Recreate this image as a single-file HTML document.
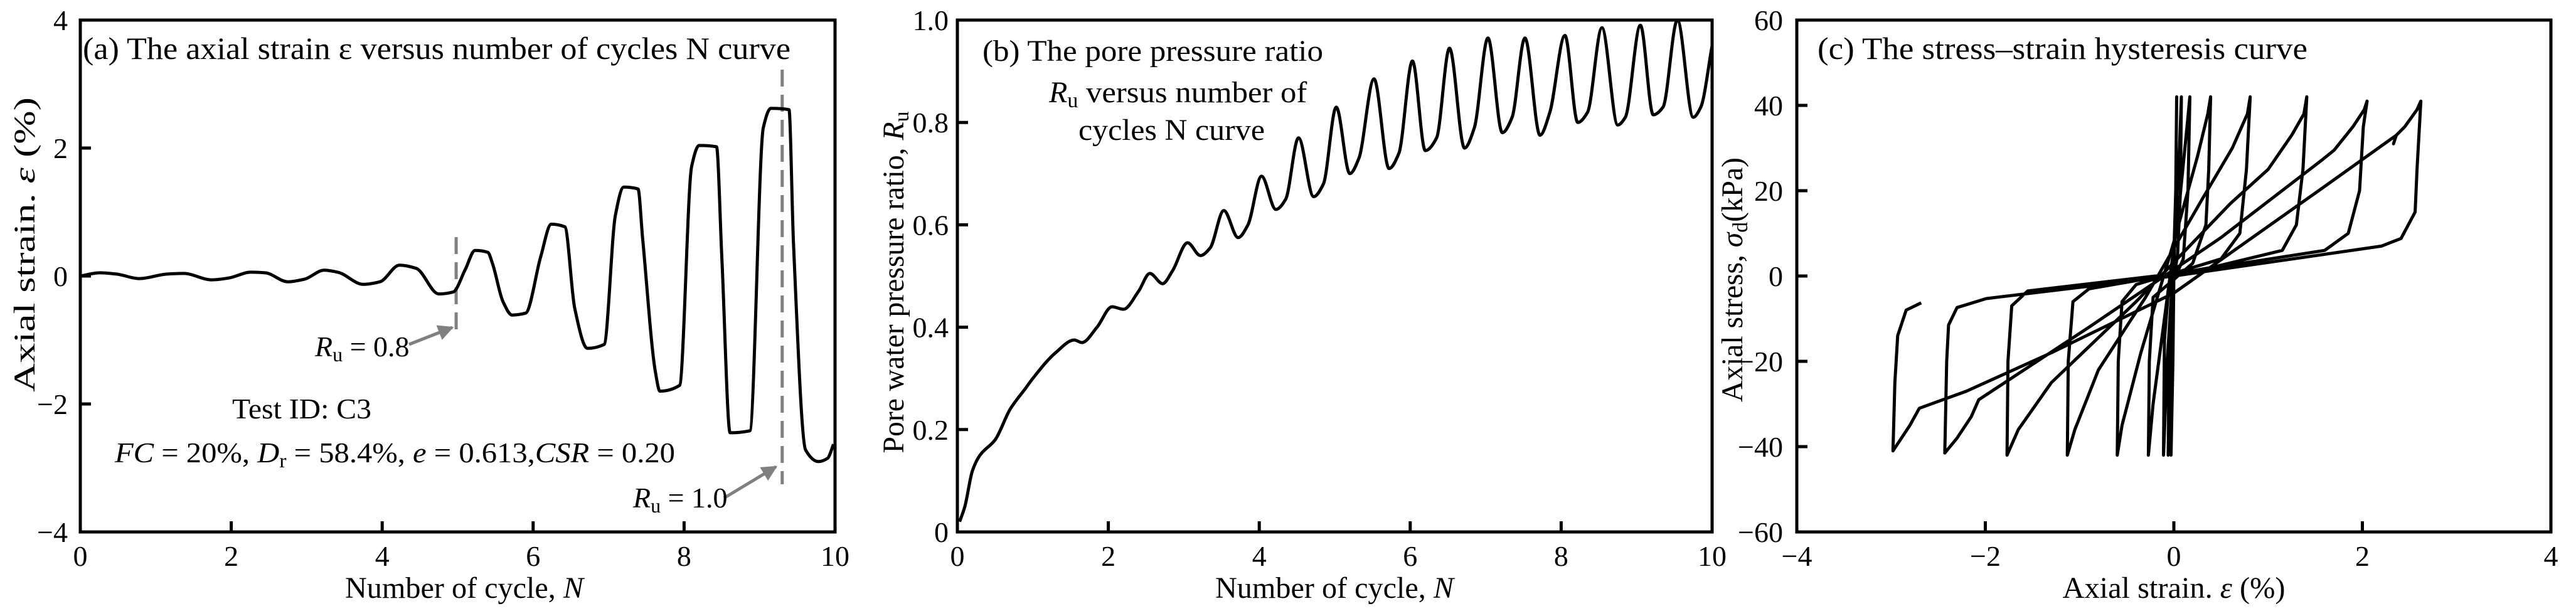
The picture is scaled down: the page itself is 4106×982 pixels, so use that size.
<!DOCTYPE html>
<html><head><meta charset="utf-8"><style>
html,body{margin:0;padding:0;background:#fff;}
svg{display:block;font-family:"Liberation Serif",serif;}
</style></head><body>
<svg id="fig" width="4106" height="982" viewBox="0 0 4106 982" xmlns="http://www.w3.org/2000/svg">
<defs><marker id="ah" viewBox="0 0 10 10" refX="9" refY="5" markerWidth="5" markerHeight="5" orient="auto"><path d="M0,0 L10,5 L0,10 z" fill="#808080"/></marker></defs>
<g id="pa"></g>
<g id="pb"></g>
<g id="pc"></g>
</svg>
<script>
// Panel (a) data: number of cycles vs axial strain (%)
const aN = [0,0.26,0.48,0.78,1.15,1.37,1.74,1.97,2.26,2.45,2.75,2.97,3.23,3.41,3.75,3.97,4.23,4.45,4.75,4.94,5.1,5.23,5.4,5.46,5.6,5.72,5.9,6.1,6.24,6.42,6.55,6.72,6.94,7.09,7.2,7.39,7.45,7.62,7.68,7.94,8.1,8.2,8.43,8.5,8.61,8.87,9.05,9.15,9.39,9.45,9.61,9.78,9.9,9.98];
const aE = [0,0.05,0.03,-0.04,0.03,0.04,-0.06,-0.03,0.06,0.05,-0.09,-0.05,0.09,0.06,-0.13,-0.09,0.17,0.12,-0.28,-0.25,0.1,0.40,0.37,0.2,-0.4,-0.61,-0.58,0.3,0.81,0.77,-0.5,-1.13,-1.07,0.95,1.39,1.36,0.6,-1.5,-1.80,-1.71,1.71,2.04,2.02,0.3,-2.45,-2.42,2.32,2.62,2.60,0.5,-2.72,-2.9,-2.85,-2.63];
const aXTicks = [0,2,4,6,8,10];
const aYTicks = [4,2,0,-2,-4];
const aYTickLabels = ["4","2","0","\u22122","\u22124"];
// Panel (b) data: number of cycles vs pore pressure ratio
const bN = [0.03,0.1,0.2,0.3,0.5,0.7,0.9,1.0,1.3,1.55,1.65,1.85,2.05,2.2,2.4,2.55,2.72,2.85,3.05,3.22,3.35,3.53,3.72,3.85,4.03,4.22,4.35,4.52,4.72,4.85,5.02,5.2,5.32,5.52,5.72,5.85,6.03,6.2,6.35,6.52,6.72,6.85,7.03,7.22,7.35,7.52,7.72,7.85,8.05,8.22,8.35,8.54,8.75,8.85,9.05,9.22,9.35,9.54,9.75,9.85,10.0];
const bR = [0.02,0.05,0.12,0.15,0.18,0.24,0.28,0.30,0.35,0.375,0.37,0.40,0.44,0.435,0.47,0.505,0.485,0.51,0.565,0.54,0.555,0.628,0.575,0.60,0.695,0.63,0.65,0.77,0.655,0.68,0.83,0.70,0.73,0.885,0.71,0.74,0.92,0.745,0.77,0.945,0.75,0.79,0.965,0.78,0.81,0.965,0.775,0.82,0.97,0.80,0.82,0.985,0.795,0.81,0.99,0.815,0.83,1.0,0.81,0.83,0.95];
const bXTicks = [0,2,4,6,8,10];
const bYTicks = [0,0.2,0.4,0.6,0.8,1.0];
const bYTickLabels = ["0","0.2","0.4","0.6","0.8","1.0"];
// Panel (c) data: axial strain (%) vs axial stress (kPa)
const cStrain = [0,-0.01,-0.03,-0.02,0.0,0.02,0.03,0.02,-0.02,-0.06,-0.05,-0.02,0.04,0.07,0.08,0.06,0.0,-0.07,-0.11,-0.1,-0.06,0.1,0.15,0.17,0.14,0.05,-0.1,-0.22,-0.27,-0.26,-0.22,0.2,0.34,0.37,0.39,0.36,0.25,0.0,-0.35,-0.55,-0.6,-0.59,-0.55,-0.4,0.5,0.7,0.77,0.81,0.78,0.62,0.3,-0.3,-0.8,-1.05,-1.13,-1.12,-1.07,-0.9,0.4,1.15,1.3,1.37,1.41,1.38,1.25,1.0,0.6,-0.4,-1.3,-1.65,-1.77,-1.76,-1.72,-1.55,0,1.6,1.85,1.97,2.01,2.05,2.02,1.9,1.7,1.56,0.5,-0.9,-2.07,-2.15,-2.3,-2.43,-2.41,-2.39,-2.3,-1.99,0,2.2,2.41,2.56,2.58,2.62,2.58,2.45,2.36,2.33,2.36,1.6,0,-1.3,-2.2,-2.7,-2.8,-2.98,-2.96,-2.93,-2.84,-2.68];
const cStress = [0,-20,-42,-20,0,20,42,20,-10,-42,-15,-3,5,20,42,30,5,-20,-42,-15,-4,4,20,42,35,15,-10,-30,-42,-20,-5,3,12,25,42,38,28,8,-18,-35,-42,-20,-6,-2,4,10,25,42,38,30,18,-5,-22,-36,-42,-20,-6,-3,2,6,12,25,42,38,33,25,17,-6,-25,-36,-42,-20,-7,-3.5,0.5,6,10,20,35,41,39,35,29.5,27,9,-12,-29,-33,-38,-41.5,-20,-11.5,-7.4,-5.3,0,7,8.8,15,25,41,39,35,33,31,33,21,-4,-18,-27,-31,-35,-41,-25,-14,-8,-6.3];
const cXTicks = [-4,-2,0,2,4];
const cXTickLabels = ["\u22124","\u22122","0","2","4"];
const cYTicks = [60,40,20,0,-20,-40,-60];
const cYTickLabels = ["60","40","20","0","\u221220","\u221240","\u221260"];

const NS = "http://www.w3.org/2000/svg";
function mk(parent, tag, attrs, text){
  const e = document.createElementNS(NS, tag);
  for (const k in attrs) e.setAttribute(k, attrs[k]);
  if (text !== undefined) e.textContent = text;
  parent.appendChild(e);
  return e;
}
function lin(d0,d1,r0,r1){ return v => r0 + (v-d0)*(r1-r0)/(d1-d0); }
// monotone cubic (Fritsch-Carlson) path in pixel space, x increasing
function monotone(pts){
  const n = pts.length, dx=[], m=[], t=[];
  for (let i=0;i<n-1;i++){ dx[i]=pts[i+1][0]-pts[i][0]; m[i]=(pts[i+1][1]-pts[i][1])/dx[i]; }
  t[0]=m[0]; t[n-1]=m[n-2];
  for (let i=1;i<n-1;i++){
    if (m[i-1]*m[i] <= 0) t[i]=0;
    else { const w1=2*dx[i]+dx[i-1], w2=dx[i]+2*dx[i-1]; t[i]=(w1+w2)/(w1/m[i-1]+w2/m[i]); }
  }
  let d = "M" + pts[0][0].toFixed(1) + "," + pts[0][1].toFixed(1);
  for (let i=0;i<n-1;i++){
    const h=dx[i]/3;
    d += " C"+(pts[i][0]+h).toFixed(1)+","+(pts[i][1]+t[i]*h).toFixed(1)+" "+(pts[i+1][0]-h).toFixed(1)+","+(pts[i+1][1]-t[i+1]*h).toFixed(1)+" "+pts[i+1][0].toFixed(1)+","+pts[i+1][1].toFixed(1);
  }
  return d;
}
function frame(g, L, R, T, B){
  const r = mk(g, "rect", {x:L, y:T, width:R-L, height:B-T, fill:"none", stroke:"#000", "stroke-width":5});
  
  
}
const TOP = 32, BOT = 848, FS = 46;

// ---------- Panel A ----------
(function(){
  const g = document.getElementById("pa");
  const L=128, R=1331;
  const x = lin(0,10,L,R), y = lin(-4,4,BOT,TOP);
  frame(g,L,R,TOP,BOT);
  aXTicks.forEach(v=>{
    const t = mk(g,"line",{x1:x(v),x2:x(v),y1:BOT,y2:BOT-17,stroke:"#000","stroke-width":5});
    
    
    const l = mk(g,"text",{x:x(v),y:902,"font-size":FS,"text-anchor":"middle"},String(v));
    
    
  });
  aYTicks.forEach((v,i)=>{
    const t = mk(g,"line",{x1:L,x2:L+17,y1:y(v),y2:y(v),stroke:"#000","stroke-width":5});
    
    
    const l = mk(g,"text",{x:108,y:y(v)+16,"font-size":FS,"text-anchor":"end"},aYTickLabels[i]);
    
    
  });
  const xt = mk(g,"text",{x:740,y:953,"font-size":48,"text-anchor":"middle",textLength:380,lengthAdjust:"spacingAndGlyphs"});
  
  
  xt.innerHTML = 'Number of cycle, <tspan font-style="italic">N</tspan>';
  const yt = mk(g,"text",{x:0,y:0,"font-size":48,"text-anchor":"middle",transform:"translate(55,390) rotate(-90)",textLength:470,lengthAdjust:"spacingAndGlyphs"});
  
  
  yt.innerHTML = 'Axial strain. <tspan font-style="italic">ε</tspan> (%)';
  const tt = mk(g,"text",{x:132,y:94,"font-size":50,textLength:1128,lengthAdjust:"spacingAndGlyphs"},"(a)  The axial strain ε versus number of cycles N curve");
  
  
  const d1 = mk(g,"line",{x1:x(4.98),x2:x(4.98),y1:378,y2:528,stroke:"#808080","stroke-width":5,"stroke-dasharray":"27,13"});
  
  
  const d2 = mk(g,"line",{x1:x(9.3),x2:x(9.3),y1:111,y2:772,stroke:"#808080","stroke-width":5,"stroke-dasharray":"27,13"});
  
  
  const a1 = mk(g,"line",{x1:652,y1:549,x2:721,y2:522,stroke:"#808080","stroke-width":5,"marker-end":"url(#ah)"});
  
  
  const a2 = mk(g,"line",{x1:1154,y1:794,x2:1237,y2:744,stroke:"#808080","stroke-width":5,"marker-end":"url(#ah)"});
  
  
  const r1 = mk(g,"text",{x:502,y:568,"font-size":FS});
  
  
  r1.innerHTML = '<tspan font-style="italic">R</tspan><tspan font-size="32" dy="8">u</tspan><tspan dy="-8"> = 0.8</tspan>';
  const r2 = mk(g,"text",{x:1009,y:809,"font-size":FS});
  
  
  r2.innerHTML = '<tspan font-style="italic">R</tspan><tspan font-size="32" dy="8">u</tspan><tspan dy="-8"> = 1.0</tspan>';
  const ti = mk(g,"text",{x:370,y:667,"font-size":FS,textLength:222,lengthAdjust:"spacingAndGlyphs"},"Test ID: C3");
  
  
  const pr = mk(g,"text",{x:183,y:737,"font-size":FS,textLength:893,lengthAdjust:"spacingAndGlyphs"});
  
  
  pr.innerHTML = '<tspan font-style="italic">FC</tspan> = 20%, <tspan font-style="italic">D</tspan><tspan font-size="32" dy="8">r</tspan><tspan dy="-8"> = 58.4%, </tspan><tspan font-style="italic">e</tspan> = 0.613,<tspan font-style="italic">CSR</tspan> = 0.20';
  const pts = aN.map((n,i)=>[x(n), y(aE[i])]);
  const c = mk(g,"path",{d:monotone(pts),fill:"none",stroke:"#000","stroke-width":5,"stroke-linejoin":"round"});
  
  
})();

// ---------- Panel B ----------
(function(){
  const g = document.getElementById("pb");
  const L=1526, R=2729;
  const x = lin(0,10,L,R), y = lin(0,1,BOT,TOP);
  frame(g,L,R,TOP,BOT);
  bXTicks.forEach(v=>{
    const t = mk(g,"line",{x1:x(v),x2:x(v),y1:BOT,y2:BOT-17,stroke:"#000","stroke-width":5});
    
    
    const l = mk(g,"text",{x:x(v),y:902,"font-size":FS,"text-anchor":"middle"},String(v));
    
    
  });
  bYTicks.forEach((v,i)=>{
    const t = mk(g,"line",{x1:L,x2:L+17,y1:y(v),y2:y(v),stroke:"#000","stroke-width":5});
    
    
    const l = mk(g,"text",{x:1512,y:y(v)+16,"font-size":FS,"text-anchor":"end"},bYTickLabels[i]);
    
    
  });
  const xt = mk(g,"text",{x:2127,y:953,"font-size":48,"text-anchor":"middle",textLength:380,lengthAdjust:"spacingAndGlyphs"});
  
  
  xt.innerHTML = 'Number of cycle, <tspan font-style="italic">N</tspan>';
  const yt = mk(g,"text",{x:0,y:0,"font-size":48,"text-anchor":"middle",transform:"translate(1440,450) rotate(-90)",textLength:545,lengthAdjust:"spacingAndGlyphs"});
  
  
  yt.innerHTML = 'Pore water pressure ratio, <tspan font-style="italic">R</tspan><tspan font-size="34" dy="8">u</tspan>';
  const t1 = mk(g,"text",{x:1566,y:97,"font-size":48,textLength:543,lengthAdjust:"spacingAndGlyphs"},"(b) The pore pressure ratio");
  
  
  const t2 = mk(g,"text",{x:1672,y:163,"font-size":48});
  
  
  t2.innerHTML = '<tspan font-style="italic">R</tspan><tspan font-size="34" dy="8">u</tspan><tspan dy="-8" textLength="365" lengthAdjust="spacingAndGlyphs"> versus number of</tspan>';
  const t3 = mk(g,"text",{x:1719,y:223,"font-size":48,textLength:297,lengthAdjust:"spacingAndGlyphs"},"cycles N curve");
  
  
  const pts = bN.map((n,i)=>[x(n), y(bR[i])]);
  const c = mk(g,"path",{d:monotone(pts),fill:"none",stroke:"#000","stroke-width":5,"stroke-linejoin":"round"});
  
  
})();

// ---------- Panel C ----------
(function(){
  const g = document.getElementById("pc");
  const L=2864, R=4066;
  const x = lin(-4,4,L,R), y = lin(-60,60,BOT,TOP);
  frame(g,L,R,TOP,BOT);
  cXTicks.forEach((v,i)=>{
    const t = mk(g,"line",{x1:x(v),x2:x(v),y1:BOT,y2:BOT-17,stroke:"#000","stroke-width":5});
    
    
    const l = mk(g,"text",{x:x(v),y:902,"font-size":FS,"text-anchor":"middle"},cXTickLabels[i]);
    
    
  });
  cYTicks.forEach((v,i)=>{
    const t = mk(g,"line",{x1:L,x2:L+17,y1:y(v),y2:y(v),stroke:"#000","stroke-width":5});
    
    
    const l = mk(g,"text",{x:2842,y:y(v)+16,"font-size":FS,"text-anchor":"end"},cYTickLabels[i]);
    
    
  });
  const xt = mk(g,"text",{x:3465,y:953,"font-size":48,"text-anchor":"middle",textLength:355,lengthAdjust:"spacingAndGlyphs"});
  
  
  xt.innerHTML = 'Axial strain. <tspan font-style="italic">ε</tspan> (%)';
  const yt = mk(g,"text",{x:0,y:0,"font-size":48,"text-anchor":"middle",transform:"translate(2777,446) rotate(-90)",textLength:390,lengthAdjust:"spacingAndGlyphs"});
  
  
  yt.innerHTML = 'Axial stress,  <tspan font-style="italic">σ</tspan><tspan font-size="34" dy="8">d</tspan><tspan dy="-8">(kPa)</tspan>';
  const tt = mk(g,"text",{x:2897,y:94,"font-size":50,textLength:781,lengthAdjust:"spacingAndGlyphs"},"(c)  The stress\u2013strain hysteresis curve");
  
  
  const pts = cStrain.map((s,i)=>x(s).toFixed(1)+","+y(cStress[i]).toFixed(1)).join(" ");
  const c = mk(g,"polyline",{points:pts,fill:"none",stroke:"#000","stroke-width":5,"stroke-linejoin":"round"});
  
  
})();
</script>
</body></html>
